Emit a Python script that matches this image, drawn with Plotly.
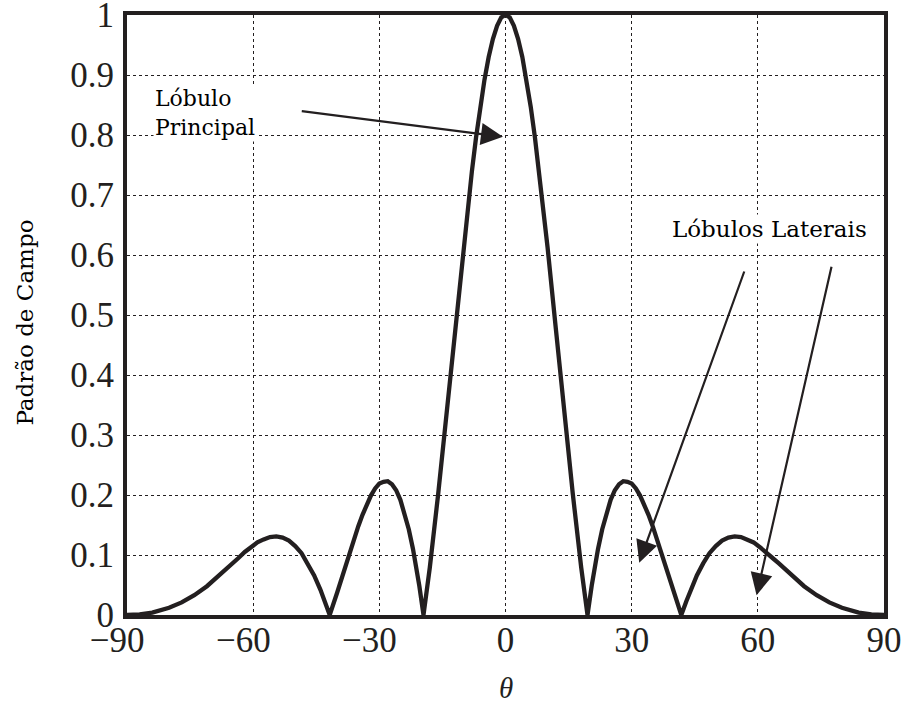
import plotly.graph_objects as go

theta = [-90, -87, -84, -80, -77, -74, -71, -68, -65, -63.5, -62, -60.5, -59, -57.5, -56, -54.5, -53, -51.5, -50,
         -48.5, -47, -45.5, -44, -43, -41.8,
         -40, -39, -38, -37, -36, -35, -34, -33, -32, -31, -30, -29, -28, -27, -26, -25, -24, -23, -22, -21, -20.5, -19.5,
         -18.8, -18, -16, -14, -12, -10, -9, -8, -7, -6, -5, -4, -3, -2, -1, 0,
         1, 2, 3, 4, 5, 6, 7, 8, 9, 10, 12, 14, 16, 18, 18.8, 19.5,
         20.5, 21, 22, 23, 24, 25, 26, 27, 28, 29, 30, 31, 32, 33, 34, 35, 36, 37, 38, 39, 40, 41.8,
         43, 44, 45.5, 47, 48.5, 50, 51.5, 53, 54.5, 56, 57.5, 59, 60.5, 62, 63.5, 65, 68, 71, 74, 77, 80, 84, 87, 90]
pattern = [0.0, 0.001, 0.004, 0.012, 0.021, 0.033, 0.048, 0.066, 0.086, 0.095, 0.105, 0.113, 0.121, 0.126, 0.130, 0.131, 0.129, 0.124, 0.115,
           0.103, 0.086, 0.066, 0.042, 0.023, 0.0,
           0.038, 0.061, 0.083, 0.105, 0.127, 0.148, 0.167, 0.185, 0.199, 0.211, 0.219, 0.222, 0.223, 0.218, 0.208, 0.192, 0.170, 0.143, 0.110, 0.071, 0.049, 0.0,
           0.035, 0.079, 0.202, 0.336, 0.475, 0.613, 0.678, 0.739, 0.796, 0.847, 0.892, 0.930, 0.960, 0.982, 0.996, 1.0,
           0.996, 0.982, 0.960, 0.930, 0.892, 0.847, 0.796, 0.739, 0.678, 0.613, 0.475, 0.336, 0.202, 0.079, 0.035, 0.0,
           0.049, 0.071, 0.110, 0.143, 0.170, 0.192, 0.208, 0.218, 0.223, 0.222, 0.219, 0.211, 0.199, 0.185, 0.167, 0.148, 0.127, 0.105, 0.083, 0.061, 0.038, 0.0,
           0.023, 0.042, 0.066, 0.086, 0.103, 0.115, 0.124, 0.129, 0.131, 0.130, 0.126, 0.121, 0.113, 0.105, 0.095, 0.086, 0.066, 0.048, 0.033, 0.021, 0.012, 0.004, 0.001, 0.0]

x_ticks = [-90, -60, -30, 0, 30, 60, 90]
x_numbers = ["\u221290", "\u221260", "\u221230", "0", "30", "60", "90"]
y_ticks = [0, 0.1, 0.2, 0.3, 0.4, 0.5, 0.6, 0.7, 0.8, 0.9, 1]
y_labels = ["0", "0.1", "0.2", "0.3", "0.4", "0.5", "0.6", "0.7", "0.8", "0.9", "1"]

# digits centred on the tick, minus sign hanging to the left (invisible twin on the right)
x_labels = [s + "<span style='color:rgba(0,0,0,0)'>\u2212</span>" if s.startswith("\u2212") else s
            for s in x_numbers]

INK = "#231f20"
SERIF = "Liberation Serif"
TXT = "DejaVu Serif"

fig = go.Figure()
fig.add_trace(go.Scatter(x=theta, y=pattern, mode="lines",
                         line=dict(color=INK, width=4.3), showlegend=False,
                         hoverinfo="skip"))

axis_common = dict(showline=True, linecolor=INK, linewidth=4, mirror=True,
                   showgrid=True, gridcolor=INK, gridwidth=1.2, griddash="dot",
                   zeroline=False, ticks="", ticklabeloverflow="allow", automargin=False,
                   tickfont=dict(family=SERIF, size=35, color=INK))

fig.update_xaxes(range=[-90, 90], tickmode="array", tickvals=x_ticks, ticktext=x_labels,
                 ticklabelstandoff=-9, **axis_common)
fig.update_yaxes(range=[0, 1], tickmode="array", tickvals=y_ticks, ticktext=y_labels,
                 ticklabelstandoff=2, **axis_common)

annos = [
    dict(x=-83.8, y=0.885, xref="x", yref="y", text="Lóbulo<br>Principal", showarrow=False,
         xanchor="left", yanchor="top", align="left", bgcolor="white",
         font=dict(family=TXT, size=22, color="black")),
    dict(x=39.0, y=0.643, xref="x", yref="y", text="Lóbulos Laterais", showarrow=False,
         xanchor="left", yanchor="middle", bgcolor="white",
         font=dict(family=TXT, size=23, color="black")),
    dict(x=-0.6, y=0.797, ax=-48.8, ay=0.84, xref="x", yref="y", axref="x", ayref="y",
         text="", showarrow=True, arrowhead=2, arrowsize=2, arrowwidth=2.2, arrowcolor=INK),
    dict(x=31.8, y=0.087, ax=56.9, ay=0.575, xref="x", yref="y", axref="x", ayref="y",
         text="", showarrow=True, arrowhead=2, arrowsize=2, arrowwidth=2.2, arrowcolor=INK),
    dict(x=59.7, y=0.033, ax=77.6, ay=0.583, xref="x", yref="y", axref="x", ayref="y",
         text="", showarrow=True, arrowhead=2, arrowsize=2, arrowwidth=2.2, arrowcolor=INK),
    dict(x=-0.135, y=0.487, xref="paper", yref="paper", text="Padrão de Campo", showarrow=False,
         textangle=-90, xanchor="center", yanchor="middle",
         font=dict(family=TXT, size=23, color="black")),
    dict(x=0.0, y=-0.1515, xref="x", yref="paper", text="<i>θ</i>", showarrow=False,
         xanchor="center", yanchor="bottom",
         font=dict(family=SERIF, size=29, color=INK)),
]

fig.update_layout(width=903, height=706, margin=dict(l=127, r=19, t=15, b=91),
                  plot_bgcolor="white", paper_bgcolor="white", annotations=annos)

fig.write_html("out.html")
